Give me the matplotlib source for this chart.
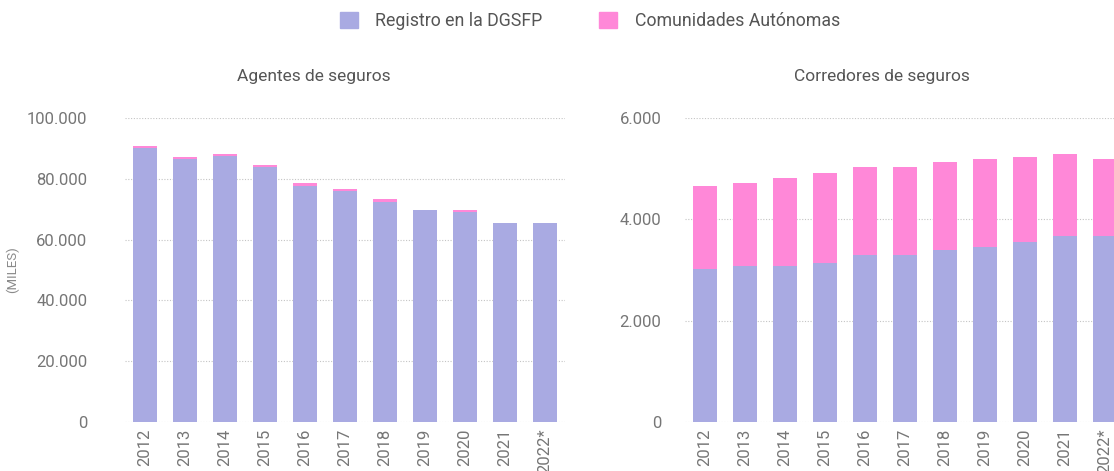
import numpy as np
import matplotlib
matplotlib.use("Agg")
import matplotlib.pyplot as plt
from matplotlib.patches import Patch
from matplotlib.ticker import FuncFormatter

# DATA
years = ["2012", "2013", "2014", "2015", "2016", "2017", "2018", "2019", "2020", "2021", "2022*"]

agentes_dgsfp = [90100, 86500, 87500, 83800, 77800, 76000, 72500, 69800, 69000, 65500, 65500]
agentes_ccaa = [800, 750, 700, 800, 900, 700, 900, 0, 800, 0, 0]

corredores_dgsfp = [3020, 3086, 3073, 3132, 3290, 3290, 3389, 3455, 3547, 3666, 3666]
corredores_ccaa = [1641, 1635, 1747, 1787, 1747, 1747, 1747, 1741, 1688, 1629, 1530]

series_labels = ["Registro en la DGSFP", "Comunidades Autónomas"]

# STYLE
BLUE = "#a9aae2"
PINK = "#ff88d8"
TICK_COLOR = "#767676"
TITLE_COLOR = "#555555"
GRID_COLOR = "#c4c4c4"

plt.rcParams["font.family"] = ["Roboto", "DejaVu Sans"]

W, H = 1114, 471
fig = plt.figure(figsize=(W / 100, H / 100), dpi=100)


def fmt_thousands(v, pos):
    return f"{int(round(v)):,}".replace(",", ".")


def draw_panel(ax, base, top, ymax, step, pad):
    x = np.arange(len(years))
    ax.bar(x, base, width=0.62, color=BLUE, zorder=2)
    ax.bar(x, top, bottom=base, width=0.62, color=PINK, zorder=2)
    ax.set_xlim(-0.5, 10.5)
    ax.set_ylim(0, ymax)
    ax.set_yticks(np.arange(0, ymax + 1, step))
    ax.yaxis.set_major_formatter(FuncFormatter(fmt_thousands))
    ax.set_xticks(x)
    ax.set_xticklabels(years, rotation=90)
    ax.grid(axis="y", linestyle=(0, (1, 1.5)), color=GRID_COLOR, linewidth=0.8, zorder=0)
    ax.set_axisbelow(True)
    for s in ax.spines.values():
        s.set_visible(False)
    ax.tick_params(axis="both", length=0, labelsize=12, colors=TICK_COLOR)
    ax.tick_params(axis="y", pad=pad)
    ax.tick_params(axis="x", pad=5)


bottom = (H - 421.7) / H
height = (421.7 - 118.3) / H

ax1 = fig.add_axes([125 / W, bottom, 440 / W, height])
draw_panel(ax1, agentes_dgsfp, agentes_ccaa, 100000, 20000, 27)
ax1.set_ylabel("(MILES)", fontsize=9.5, color="#8a8a8a", labelpad=0)
ax1.yaxis.set_label_coords(-0.24, 0.5)

ax2 = fig.add_axes([685 / W, bottom, 440 / W, height])
draw_panel(ax2, corredores_dgsfp, corredores_ccaa, 6000, 2000, 17)

fig.text(314 / W, 1 - 77 / H, "Agentes de seguros", ha="center", va="center",
         fontsize=12.5, color=TITLE_COLOR)
fig.text(882 / W, 1 - 77 / H, "Corredores de seguros", ha="center", va="center",
         fontsize=12.5, color=TITLE_COLOR)

handles = [Patch(color=BLUE), Patch(color=PINK)]
fig.legend(handles, series_labels, loc="center", bbox_to_anchor=(590 / W, 1 - 21 / H),
           ncol=2, frameon=False, fontsize=12.8, handlelength=1.0, handleheight=1.0,
           columnspacing=3.2, handletextpad=1.0, labelcolor=TITLE_COLOR)

fig.savefig("out.png", dpi=100)
